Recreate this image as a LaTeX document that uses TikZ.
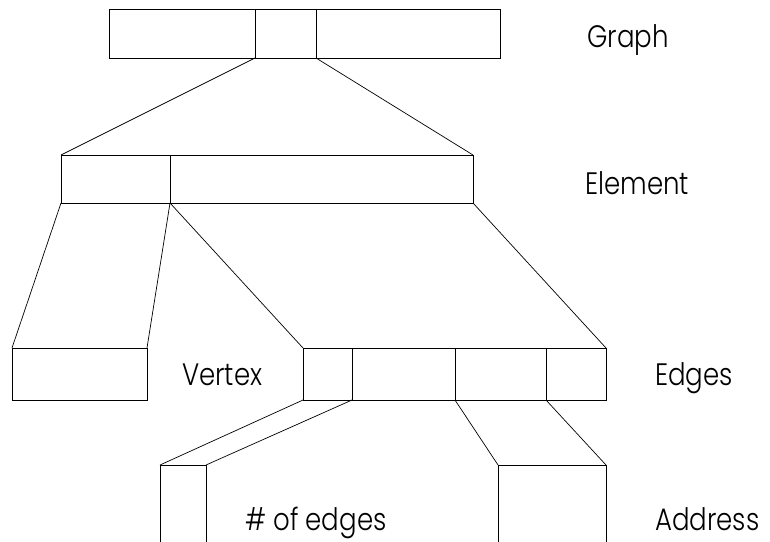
\documentclass[tikz,border=0pt]{standalone}
\usepackage{fontspec}
\setmainfont{Poppins}[UprightFont=* Light, FakeStretch=0.84]
\begin{document}
\begin{tikzpicture}[
        x=1pt, y=-1pt,
        cell/.style={rectangle, draw, line width=0.8pt, inner sep=0pt, outer sep=0pt, anchor=north west},
        link/.style={line width=0.7pt},
        lbl/.style={anchor=base west, inner sep=0pt, font=\fontsize{31}{34}\selectfont}
    ]
        \useasboundingbox (0,0) rectangle (770,541);
        \clip (0,0) rectangle (770,541);
        % Graph
        \node[cell, minimum width=146pt, minimum height=49pt] (g1) at (109,9) {};
        \node[cell, minimum width=61pt, minimum height=49pt] (g2) at (255,9) {};
        \node[cell, minimum width=184pt, minimum height=49pt] (g3) at (316,9) {};
        
        % Element
        \node[cell, minimum width=109pt, minimum height=48pt] (e1) at (61,155) {};
        \node[cell, minimum width=303pt, minimum height=48pt] (e2) at (170,155) {};
        
        % Vertex and Edges
        \node[cell, minimum width=135pt, minimum height=52pt] (v) at (12,348) {};
        \node[cell, minimum width=49pt, minimum height=52pt] (d1) at (303,348) {};
        \node[cell, minimum width=103pt, minimum height=52pt] (d2) at (352,348) {};
        \node[cell, minimum width=91pt, minimum height=52pt] (d3) at (455,348) {};
        \node[cell, minimum width=60pt, minimum height=52pt] (d4) at (546,348) {};
        
        % bottom, cut off by the page
        \node[cell, minimum width=46pt, minimum height=100pt] (n) at (160,465) {};
        \node[cell, minimum width=108pt, minimum height=100pt] (a) at (498,465) {};
        
        % Connectors
        \draw[link] (g2.south west) -- (e1.north west);
        \draw[link] (g2.south east) -- (e2.north east);
        \draw[link] (e1.south west) -- (v.north west);
        \draw[link] (e1.south east) -- (v.north east);
        \draw[link] (e2.south west) -- (d1.north west);
        \draw[link] (e2.south east) -- (d4.north east);
        \draw[link] (d1.south west) -- (n.north west);
        \draw[link] (d1.south east) -- (n.north east);
        \draw[link] (d3.south west) -- (a.north west);
        \draw[link] (d3.south east) -- (a.north east);
        
        % Labels
        \node[lbl] (tgraph) at (587,47) {Graph};
        \node[lbl] (telement) at (585,194) {Element};
        \node[lbl] (tvertex) at (182,385) {Vertex};
        \node[lbl] (tedges) at (655,385) {Edges};
        \node[lbl] (tcount) at (245,530) {\# of edges};
        \node[lbl] (taddress) at (655,530) {Address};
    \end{tikzpicture}
\end{document}
